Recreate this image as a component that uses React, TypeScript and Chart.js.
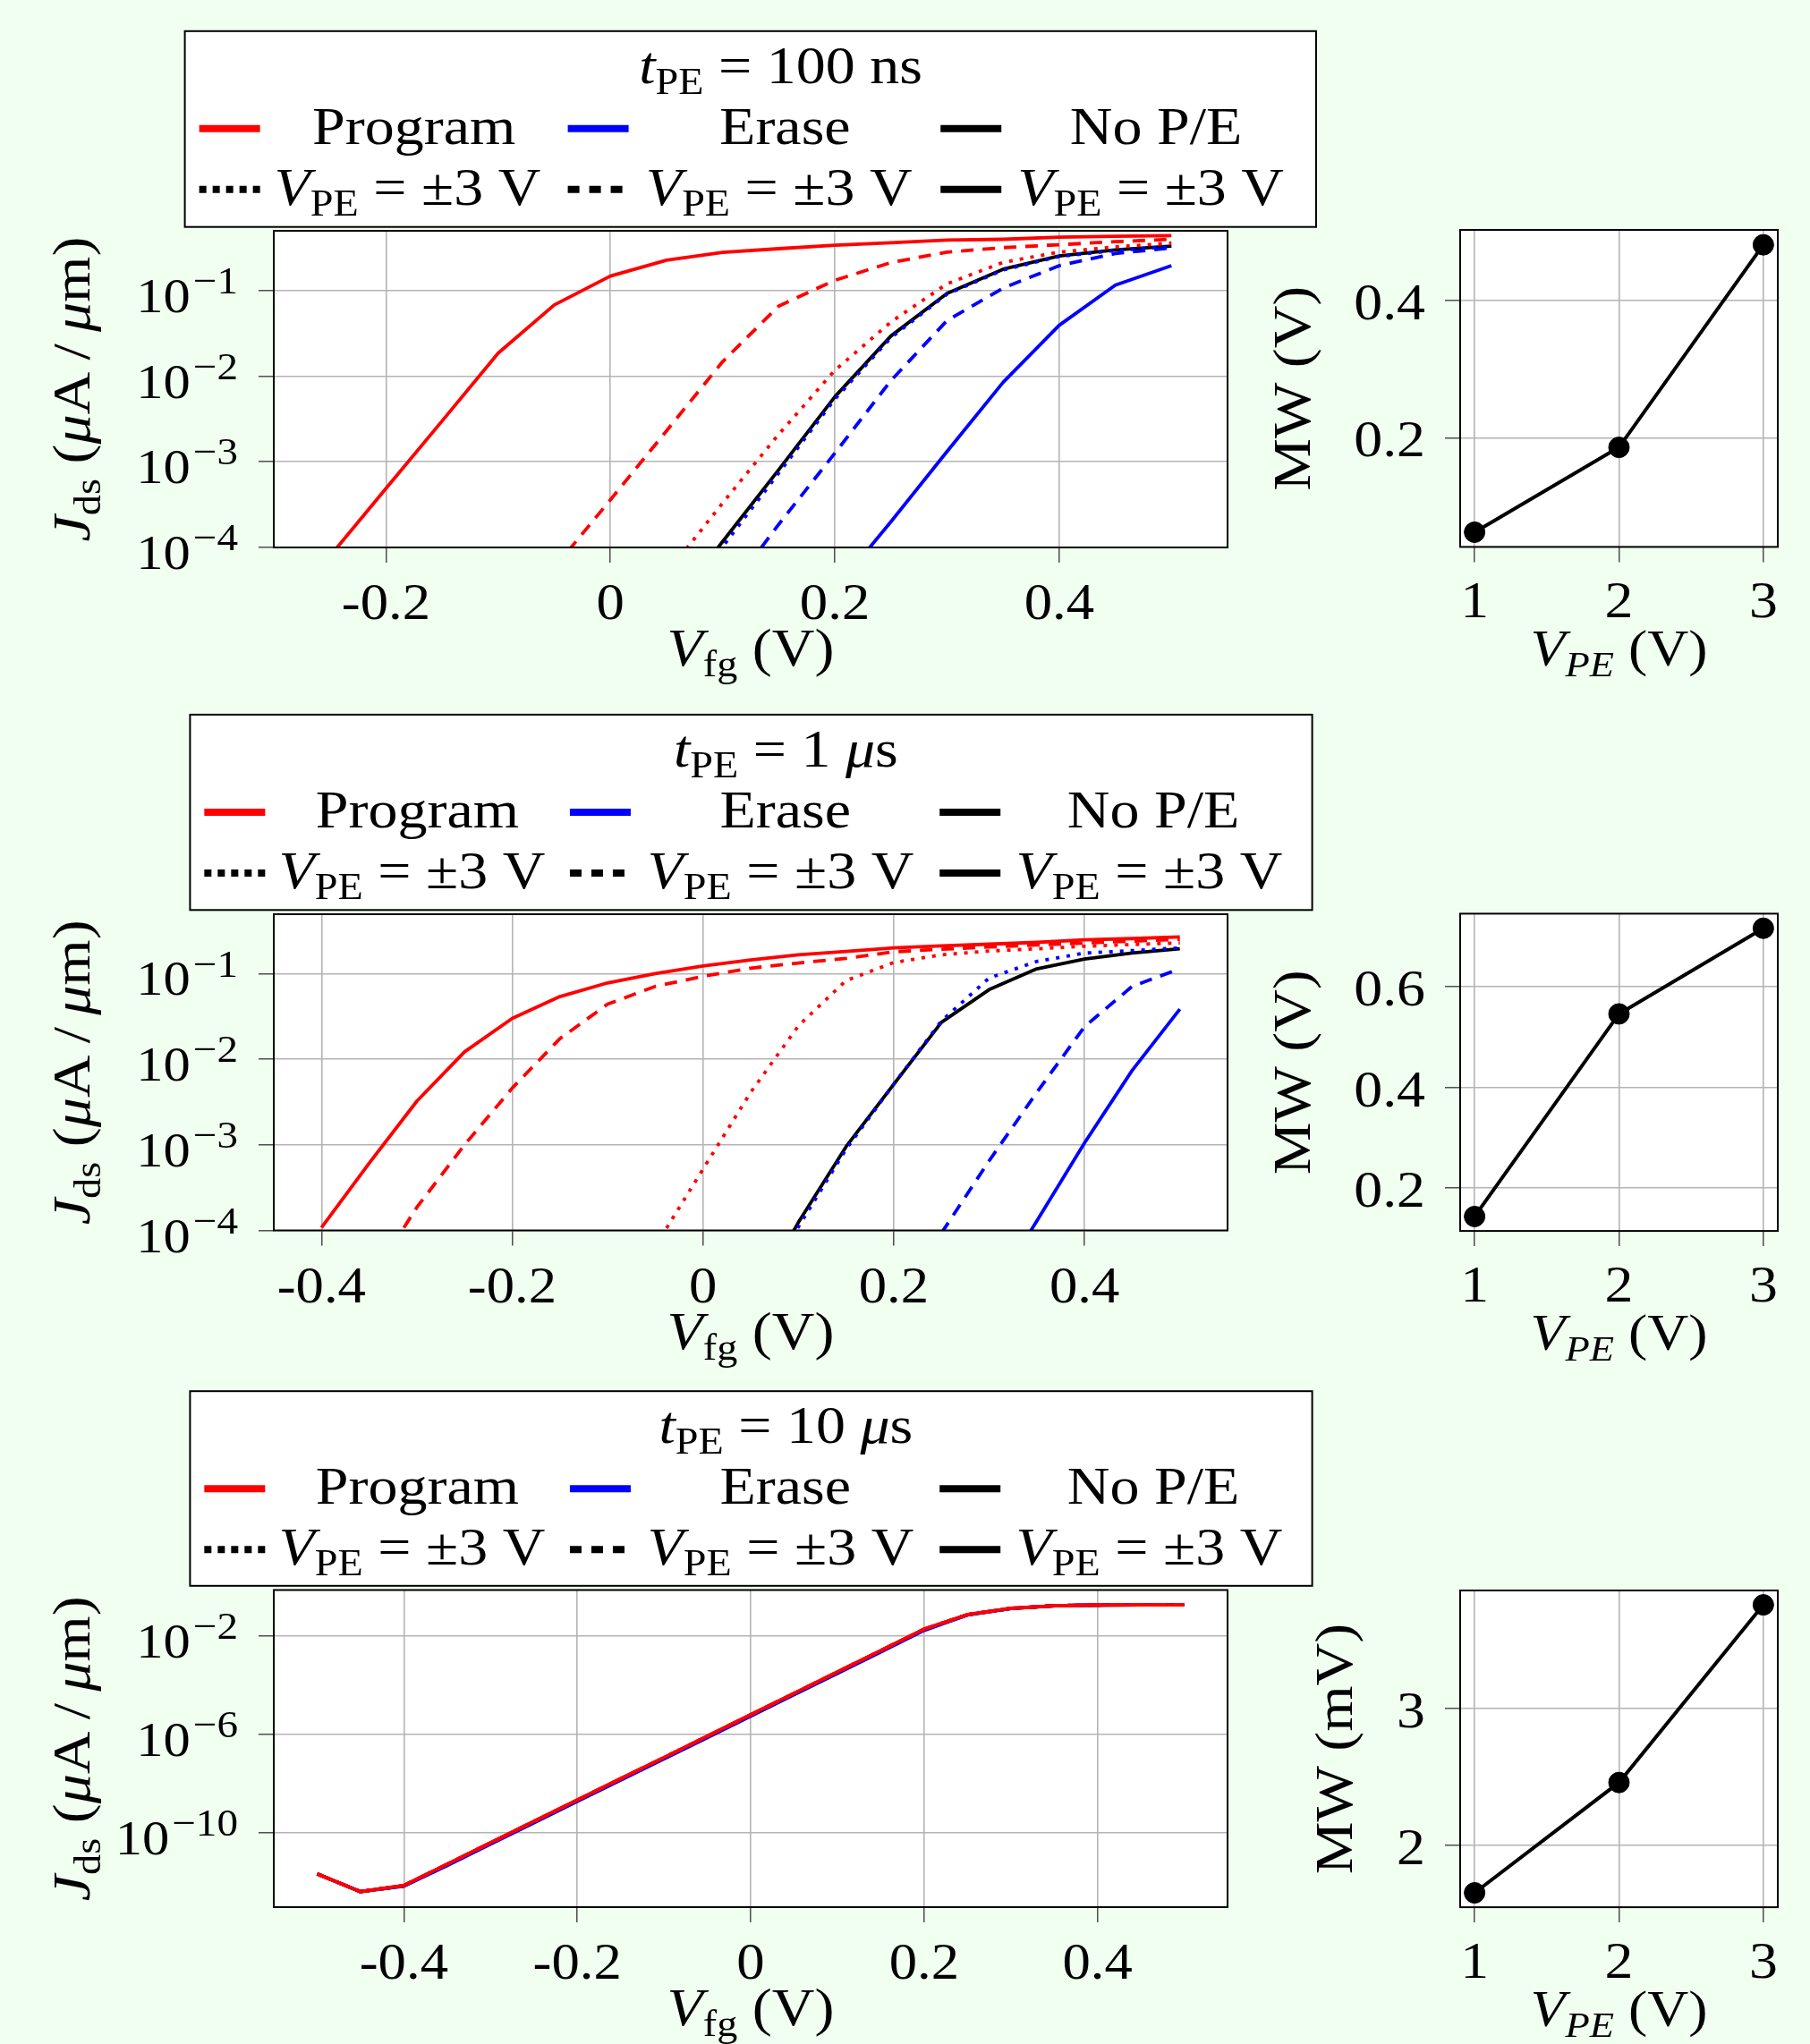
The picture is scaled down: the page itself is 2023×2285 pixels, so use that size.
import React, { useEffect, useRef } from 'react';
import { Chart, registerables } from 'chart.js';

Chart.register(...registerables);

const FONT = '"Liberation Serif", "Times New Roman", serif';
const XS = 1.1; // horizontal stretch to mimic the wider book face of the original
const PAGE_BG = '#F0FFF0';
const RED = '#FF0000';
const BLUE = '#0000FF';
const BLACK = '#000000';
const GRID = '#b4b4b4';
const TICK = '#333333';

// ---------------- Panel A : t_PE = 100 ns ----------------
const vfgA = [-0.25, -0.2, -0.15, -0.1, -0.05, 0, 0.05, 0.1, 0.15, 0.2, 0.25, 0.3, 0.35, 0.4, 0.45, 0.5];
const jdsA_programSolid = [7.9e-5, 4.9e-4, 3.0e-3, 1.86e-2, 6.8e-2, 0.148, 0.227, 0.28, 0.309, 0.339, 0.363, 0.389, 0.398, 0.421, 0.431, 0.439];
const jdsA_programDashed = [null, null, null, null, 5.8e-5, 3.6e-4, 2.3e-3, 1.48e-2, 6.6e-2, 0.132, 0.213, 0.282, 0.318, 0.344, 0.373, 0.398];
const jdsA_programDotted = [null, null, null, null, null, null, 4.9e-5, 3.3e-4, 2.1e-3, 1.17e-2, 4.3e-2, 0.12, 0.214, 0.282, 0.324, 0.359];
const jdsA_eraseSolid = [null, null, null, null, null, null, null, null, null, 3.2e-5, 2.0e-4, 1.32e-3, 8.5e-3, 3.94e-2, 0.116, 0.196];
const jdsA_eraseDashed = [null, null, null, null, null, null, null, 2.5e-5, 1.86e-4, 1.26e-3, 8.9e-3, 4.47e-2, 0.107, 0.196, 0.271, 0.316];
const jdsA_eraseDotted = [null, null, null, null, null, null, 1.41e-5, 1.02e-4, 7.4e-4, 5.4e-3, 2.82e-2, 9.1e-2, 0.174, 0.251, 0.295, 0.327];
const jdsA_noPE = [null, null, null, null, null, null, 1.66e-5, 1.17e-4, 8.1e-4, 5.75e-3, 2.95e-2, 9.3e-2, 0.178, 0.254, 0.299, 0.331];

// ---------------- Panel B : t_PE = 1 us ----------------
const vfgB = [-0.4, -0.35, -0.3, -0.25, -0.2, -0.15, -0.1, -0.05, 0, 0.05, 0.1, 0.15, 0.2, 0.25, 0.3, 0.35, 0.4, 0.45, 0.5];
const jdsB_programSolid = [1.08e-4, 6.1e-4, 3.24e-3, 1.22e-2, 3.0e-2, 5.4e-2, 7.8e-2, 0.1, 0.123, 0.145, 0.166, 0.182, 0.2, 0.211, 0.221, 0.232, 0.248, 0.257, 0.269];
const jdsB_programDashed = [null, 2.5e-5, 1.86e-4, 1.0e-3, 4.6e-3, 1.74e-2, 4.4e-2, 7.1e-2, 9.3e-2, 0.116, 0.133, 0.151, 0.18, 0.193, 0.205, 0.216, 0.228, 0.24, 0.252];
const jdsB_programDotted = [null, null, null, null, null, null, null, 6.5e-5, 5.2e-4, 4.1e-3, 2.45e-2, 8.3e-2, 0.135, 0.166, 0.184, 0.195, 0.209, 0.219, 0.229];
const jdsB_eraseSolid = [null, null, null, null, null, null, null, null, null, null, null, null, null, null, 1.6e-5, 1.29e-4, 1.05e-3, 7.4e-3, 3.85e-2];
const jdsB_eraseDashed = [null, null, null, null, null, null, null, null, null, null, null, null, null, 9.3e-5, 6.5e-4, 4.1e-3, 2.4e-2, 7.1e-2, 0.114];
const jdsB_eraseDotted = [null, null, null, null, null, null, null, null, null, 1.1e-5, 1.1e-4, 8.9e-4, 5.1e-3, 2.8e-2, 8.9e-2, 0.139, 0.174, 0.186, 0.2];
const jdsB_noPE = [null, null, null, null, null, null, null, null, null, 1.26e-5, 1.24e-4, 9.5e-4, 5.1e-3, 2.7e-2, 6.5e-2, 0.114, 0.148, 0.174, 0.195];

// ---------------- Panel C : t_PE = 10 us ----------------
const vfgC = [-0.5, -0.45, -0.4, -0.35, -0.3, -0.25, -0.2, -0.15, -0.1, -0.05, 0, 0.05, 0.1, 0.15, 0.2, 0.25, 0.3, 0.35, 0.4, 0.45, 0.5];
const jdsC_programSolid = [2.09e-12, 3.98e-13, 7.08e-13, 5.25e-12, 3.89e-11, 2.88e-10, 2.14e-9, 1.58e-8, 1.15e-7, 8.51e-7, 6.31e-6, 4.68e-5, 3.47e-4, 2.57e-3, 1.91e-2, 7.41e-2, 0.133, 0.17, 0.182, 0.184, 0.184];
const jdsC_programDashed = [2.09e-12, 3.98e-13, 7.05e-13, 5.2e-12, 3.85e-11, 2.85e-10, 2.11e-9, 1.56e-8, 1.13e-7, 8.4e-7, 6.22e-6, 4.61e-5, 3.42e-4, 2.54e-3, 1.89e-2, 7.38e-2, 0.133, 0.17, 0.182, 0.184, 0.184];
const jdsC_programDotted = [2.09e-12, 3.98e-13, 7.02e-13, 5.16e-12, 3.82e-11, 2.83e-10, 2.09e-9, 1.54e-8, 1.12e-7, 8.3e-7, 6.15e-6, 4.56e-5, 3.38e-4, 2.51e-3, 1.87e-2, 7.36e-2, 0.133, 0.17, 0.182, 0.184, 0.184];
const jdsC_eraseSolid = [2.09e-12, 3.98e-13, 6.6e-13, 4.6e-12, 3.4e-11, 2.5e-10, 1.85e-9, 1.36e-8, 9.9e-8, 7.3e-7, 5.45e-6, 4.03e-5, 2.99e-4, 2.22e-3, 1.68e-2, 7.1e-2, 0.131, 0.169, 0.182, 0.184, 0.184];
const jdsC_eraseDashed = [2.09e-12, 3.98e-13, 6.8e-13, 4.97e-12, 3.67e-11, 2.71e-10, 2.0e-9, 1.47e-8, 1.07e-7, 7.9e-7, 5.88e-6, 4.36e-5, 3.23e-4, 2.4e-3, 1.8e-2, 7.27e-2, 0.132, 0.17, 0.182, 0.184, 0.184];
const jdsC_eraseDotted = [2.09e-12, 3.98e-13, 6.88e-13, 5.04e-12, 3.72e-11, 2.75e-10, 2.03e-9, 1.5e-8, 1.08e-7, 8.05e-7, 5.98e-6, 4.43e-5, 3.28e-4, 2.44e-3, 1.82e-2, 7.3e-2, 0.132, 0.17, 0.182, 0.184, 0.184];
const jdsC_noPE = [2.09e-12, 3.98e-13, 6.95e-13, 5.1e-12, 3.78e-11, 2.79e-10, 2.07e-9, 1.52e-8, 1.1e-7, 8.2e-7, 6.08e-6, 4.5e-5, 3.34e-4, 2.48e-3, 1.85e-2, 7.33e-2, 0.132, 0.17, 0.182, 0.184, 0.184];

// ---------------- Memory window panels ----------------
const vpe = [1, 2, 3];
const mw100ns = [0.0624, 0.186, 0.481];
const mw1us = [0.1437, 0.546, 0.716];
const mw10us_mV = [1.656, 2.46, 3.755];

// ---------------- Tick values ----------------
const vfgTicksA = [-0.2, 0, 0.2, 0.4];
const vfgTicksBC = [-0.4, -0.2, 0, 0.2, 0.4];
const jdsTicksAB = [1e-4, 1e-3, 1e-2, 1e-1];
const jdsTicksC = [1e-10, 1e-6, 1e-2];
const vpeTicks = [1, 2, 3];
const mwTicksA = [0.2, 0.4];
const mwTicksB = [0.2, 0.4, 0.6];
const mwTicksC = [2, 3];

// ---------------- Rich text helpers ----------------
type Seg = { t: string; it?: boolean; sub?: boolean; sup?: boolean };

function segSize(s: Seg, size: number) {
  if (s.sub) return size * 0.7;
  if (s.sup) return size * 0.78;
  return size;
}
function segFont(s: Seg, size: number) {
  return `${s.it ? 'italic ' : ''}${segSize(s, size)}px ${FONT}`;
}
function richWidth(ctx: CanvasRenderingContext2D, segs: Seg[], size: number) {
  let w = 0;
  for (const s of segs) {
    ctx.font = segFont(s, size);
    w += ctx.measureText(s.t).width;
    if (s.sup) w += size * 0.05;
  }
  return w;
}
function drawRich(ctx: CanvasRenderingContext2D, segs: Seg[], x: number, y: number, size: number, align: 'left' | 'center' | 'right' = 'left') {
  const w = richWidth(ctx, segs, size) * XS;
  const x0 = align === 'center' ? x - w / 2 : align === 'right' ? x - w : x;
  ctx.save();
  ctx.translate(x0, y);
  ctx.scale(XS, 1);
  ctx.fillStyle = '#000';
  ctx.textAlign = 'left';
  ctx.textBaseline = 'alphabetic';
  let cx = 0;
  for (const s of segs) {
    ctx.font = segFont(s, size);
    if (s.sup) cx += size * 0.05;
    const dy = s.sub ? size * 0.2 : s.sup ? -size * 0.38 : 0;
    ctx.fillText(s.t, cx, dy);
    cx += ctx.measureText(s.t).width;
  }
  ctx.restore();
}
function logLabel(v: number): Seg[] {
  const e = Math.round(Math.log10(v));
  return [{ t: '10' }, { t: (e < 0 ? '\u2212' : '') + Math.abs(e), sup: true }];
}

const JDS_TITLE: Seg[] = [
  { t: 'J', it: true }, { t: 'ds', sub: true }, { t: ' (' }, { t: '\u03bc', it: true },
  { t: 'A\u2009/\u2009' }, { t: '\u03bc', it: true }, { t: 'm)' },
];
const VFG_TITLE: Seg[] = [{ t: 'V', it: true }, { t: 'fg', sub: true }, { t: ' (V)' }];
const VPE_TITLE: Seg[] = [{ t: 'V', it: true }, { t: 'PE', it: true, sub: true }, { t: ' (V)' }];
const VPE_LEGEND: Seg[] = [{ t: 'V', it: true }, { t: 'PE', sub: true }, { t: ' = \u00b13 V' }];
const TITLE_A: Seg[] = [{ t: 't', it: true }, { t: 'PE', sub: true }, { t: ' = 100 ns' }];
const TITLE_B: Seg[] = [{ t: 't', it: true }, { t: 'PE', sub: true }, { t: ' = 1 ' }, { t: '\u03bc', it: true }, { t: 's' }];
const TITLE_C: Seg[] = [{ t: 't', it: true }, { t: 'PE', sub: true }, { t: ' = 10 ' }, { t: '\u03bc', it: true }, { t: 's' }];

const LEG_FS = 60;
const LINE_W = 3.8;
const DOTTED = [4, 8];
const DASHED = [14, 10];

type Box = { l: number; t: number; r: number; b: number };

function drawLegend(ctx: CanvasRenderingContext2D, box: Box, oy: number, title: Seg[]) {
  const l = box.l, t = box.t - oy, w = box.r - box.l, h = box.b - box.t;
  ctx.save();
  ctx.fillStyle = '#ffffff';
  ctx.fillRect(l, t, w, h);
  ctx.strokeStyle = '#000';
  ctx.lineWidth = 2;
  ctx.strokeRect(l, t, w, h);
  ctx.restore();
  drawRich(ctx, title, l + 666, t + 58, LEG_FS, 'center');
  const sampleX = [0.0127, 0.3385, 0.668].map((f) => l + f * w);
  const nameX = [0.2025, 0.5305, 0.8585].map((f) => l + f * w);
  const vpeX = [0.079, 0.4075, 0.736].map((f) => l + f * w);
  const colors = [RED, BLUE, BLACK];
  const names = ['Program', 'Erase', 'No P/E'];
  const dashes = [[8, 7], [13, 11], []];
  for (let i = 0; i < 3; i++) {
    ctx.save();
    ctx.lineWidth = 8;
    ctx.lineCap = 'butt';
    ctx.strokeStyle = colors[i];
    ctx.beginPath();
    ctx.moveTo(sampleX[i], t + 109);
    ctx.lineTo(sampleX[i] + 68, t + 109);
    ctx.stroke();
    ctx.strokeStyle = BLACK;
    ctx.setLineDash(dashes[i]);
    ctx.beginPath();
    ctx.moveTo(sampleX[i], t + 177);
    ctx.lineTo(sampleX[i] + 68, t + 177);
    ctx.stroke();
    ctx.restore();
    drawRich(ctx, [{ t: names[i] }], nameX[i], t + 126, LEG_FS, 'center');
    drawRich(ctx, VPE_LEGEND, vpeX[i], t + 194, LEG_FS, 'left');
  }
}

const AXW = 20;

function gridOpts() {
  return { color: GRID, lineWidth: 1.6, tickColor: TICK, tickLength: 17, tickWidth: 1.3, drawTicks: true };
}

function whiteAndFrame(id: string, after: (chart: any) => void) {
  return {
    id,
    beforeDraw(chart: any) {
      const a = chart.chartArea;
      const ctx = chart.ctx;
      ctx.save();
      ctx.fillStyle = '#ffffff';
      ctx.fillRect(a.left, a.top, a.right - a.left, a.bottom - a.top);
      ctx.restore();
    },
    afterDatasetsDraw(chart: any) {
      const a = chart.chartArea;
      const ctx = chart.ctx;
      ctx.save();
      ctx.strokeStyle = '#000';
      ctx.lineWidth = 2;
      ctx.strokeRect(a.left, a.top, a.right - a.left, a.bottom - a.top);
      ctx.restore();
    },
    afterDraw(chart: any) {
      after(chart);
    },
  };
}

type Curve = { ys: (number | null)[]; color: string; dash: number[] };
type LeftPanel = {
  oy: number; h: number; plot: Box; box: Box; title: Seg[];
  xs: number[]; xMin: number; xMax: number; yMin: number; yMax: number;
  xTicks: number[]; yTicks: number[]; curves: Curve[];
};

function curvesOf(ps: (number | null)[], pd: (number | null)[], pt: (number | null)[], es: (number | null)[], ed: (number | null)[], et: (number | null)[], np: (number | null)[]): Curve[] {
  return [
    { ys: ps, color: RED, dash: [] },
    { ys: pd, color: RED, dash: DASHED },
    { ys: pt, color: RED, dash: DOTTED },
    { ys: es, color: BLUE, dash: [] },
    { ys: ed, color: BLUE, dash: DASHED },
    { ys: et, color: BLUE, dash: DOTTED },
    { ys: np, color: BLACK, dash: [] },
  ];
}

const LEFT_W = 1485;
const RIGHT_X = 1400;
const RIGHT_W = 623;

const leftPanels: LeftPanel[] = [
  {
    oy: 0, h: 780, plot: { l: 306, t: 258, r: 1372, b: 612 }, box: { l: 206.6, t: 34.8, r: 1471, b: 253.7 }, title: TITLE_A,
    xs: vfgA, xMin: -0.3, xMax: 0.55, yMin: 1e-4, yMax: 0.5, xTicks: vfgTicksA, yTicks: jdsTicksAB,
    curves: curvesOf(jdsA_programSolid, jdsA_programDashed, jdsA_programDotted, jdsA_eraseSolid, jdsA_eraseDashed, jdsA_eraseDotted, jdsA_noPE),
  },
  {
    oy: 780, h: 750, plot: { l: 306, t: 1022, r: 1372, b: 1375.5 }, box: { l: 212.4, t: 798.9, r: 1466.6, b: 1017.3 }, title: TITLE_B,
    xs: vfgB, xMin: -0.45, xMax: 0.55, yMin: 1e-4, yMax: 0.495, xTicks: vfgTicksBC, yTicks: jdsTicksAB,
    curves: curvesOf(jdsB_programSolid, jdsB_programDashed, jdsB_programDotted, jdsB_eraseSolid, jdsB_eraseDashed, jdsB_eraseDotted, jdsB_noPE),
  },
  {
    oy: 1530, h: 755, plot: { l: 306, t: 1777.5, r: 1372, b: 2132 }, box: { l: 212.4, t: 1555.2, r: 1466.6, b: 1772.8 }, title: TITLE_C,
    xs: vfgC, xMin: -0.55, xMax: 0.55, yMin: 9.3e-14, yMax: 0.74, xTicks: vfgTicksBC, yTicks: jdsTicksC,
    curves: curvesOf(jdsC_programSolid, jdsC_programDashed, jdsC_programDotted, jdsC_eraseSolid, jdsC_eraseDashed, jdsC_eraseDotted, jdsC_noPE),
  },
];

type RightPanel = {
  oy: number; h: number; plot: Box; ys: number[]; yMin: number; yMax: number; yTicks: number[];
  yTitle: string; yTitleOffset: number;
};

const rightPanels: RightPanel[] = [
  { oy: 0, h: 780, plot: { l: 1632, t: 257, r: 1987, b: 611.4 }, ys: mw100ns, yMin: 0.041, yMax: 0.5027, yTicks: mwTicksA, yTitle: 'MW (V)', yTitleOffset: 168 },
  { oy: 780, h: 750, plot: { l: 1632, t: 1021.4, r: 1987, b: 1376.1 }, ys: mw1us, yMin: 0.115, yMax: 0.745, yTicks: mwTicksB, yTitle: 'MW (V)', yTitleOffset: 168 },
  { oy: 1530, h: 755, plot: { l: 1632, t: 1778, r: 1987, b: 2132.1 }, ys: mw10us_mV, yMin: 1.551, yMax: 3.86, yTicks: mwTicksC, yTitle: 'MW (mV)', yTitleOffset: 121 },
];

function leftConfig(p: LeftPanel): any {
  const datasets = p.curves.map((c) => ({
    data: p.xs.map((x, i) => ({ x, y: c.ys[i] })),
    borderColor: c.color,
    backgroundColor: c.color,
    borderDash: c.dash,
    borderWidth: LINE_W,
    borderCapStyle: 'butt',
    borderJoinStyle: 'round',
    pointRadius: 0,
    fill: false,
    tension: 0,
    spanGaps: false,
  }));
  const plugin = whiteAndFrame('leftDecor', (chart: any) => {
    const ctx: CanvasRenderingContext2D = chart.ctx;
    const a = chart.chartArea;
    const xs = chart.scales.x;
    const ys = chart.scales.y;
    for (const v of p.yTicks) {
      drawRich(ctx, logLabel(v), a.left - 40, ys.getPixelForValue(v) + 24, 55, 'right');
    }
    for (const v of p.xTicks) {
      drawRich(ctx, [{ t: String(v) }], xs.getPixelForValue(v), a.bottom + 80, 57, 'center');
    }
    drawRich(ctx, VFG_TITLE, (a.left + a.right) / 2, a.bottom + 132, 60, 'center');
    ctx.save();
    ctx.translate(a.left - 206, (a.top + a.bottom) / 2);
    ctx.rotate(-Math.PI / 2);
    drawRich(ctx, JDS_TITLE, 0, 0, 60, 'center');
    ctx.restore();
    drawLegend(ctx, p.box, p.oy, p.title);
  });
  return {
    type: 'line',
    data: { datasets },
    options: {
      responsive: false,
      animation: false,
      devicePixelRatio: 1,
      events: [],
      layout: { padding: { left: p.plot.l - AXW, top: p.plot.t - p.oy, right: LEFT_W - p.plot.r, bottom: p.oy + p.h - p.plot.b - AXW } },
      plugins: { legend: { display: false }, tooltip: { enabled: false }, title: { display: false } },
      scales: {
        x: {
          type: 'linear', min: p.xMin, max: p.xMax, bounds: 'data',
          ticks: { display: false }, grid: gridOpts(), border: { display: false },
          afterBuildTicks: (s: any) => { s.ticks = p.xTicks.map((v) => ({ value: v })); },
          afterFit: (s: any) => { s.height = AXW; },
        },
        y: {
          type: 'logarithmic', min: p.yMin, max: p.yMax, bounds: 'data',
          ticks: { display: false }, grid: gridOpts(), border: { display: false },
          afterBuildTicks: (s: any) => { s.ticks = p.yTicks.map((v) => ({ value: v })); },
          afterFit: (s: any) => { s.width = AXW; },
        },
      },
    },
    plugins: [plugin],
  };
}

function rightConfig(p: RightPanel): any {
  const plugin = whiteAndFrame('rightDecor', (chart: any) => {
    const ctx: CanvasRenderingContext2D = chart.ctx;
    const a = chart.chartArea;
    const xs = chart.scales.x;
    const ys = chart.scales.y;
    for (const v of p.yTicks) {
      drawRich(ctx, [{ t: String(v) }], a.left - 39, ys.getPixelForValue(v) + 21, 58, 'right');
    }
    for (const v of vpeTicks) {
      drawRich(ctx, [{ t: String(v) }], xs.getPixelForValue(v), a.bottom + 79, 58, 'center');
    }
    drawRich(ctx, VPE_TITLE, (a.left + a.right) / 2, a.bottom + 133, 58, 'center');
    ctx.save();
    ctx.translate(a.left - p.yTitleOffset, (a.top + a.bottom) / 2);
    ctx.rotate(-Math.PI / 2);
    drawRich(ctx, [{ t: p.yTitle }], 0, 0, 60, 'center');
    ctx.restore();
  });
  return {
    type: 'line',
    data: {
      datasets: [{
        data: vpe.map((x, i) => ({ x, y: p.ys[i] })),
        borderColor: BLACK,
        backgroundColor: BLACK,
        borderWidth: 4,
        pointRadius: 11.5,
        pointBackgroundColor: BLACK,
        pointBorderColor: BLACK,
        pointBorderWidth: 1,
        fill: false,
        tension: 0,
      }],
    },
    options: {
      responsive: false,
      animation: false,
      devicePixelRatio: 1,
      events: [],
      layout: { padding: { left: p.plot.l - RIGHT_X - AXW, top: p.plot.t - p.oy, right: RIGHT_X + RIGHT_W - p.plot.r, bottom: p.oy + p.h - p.plot.b - AXW } },
      plugins: { legend: { display: false }, tooltip: { enabled: false }, title: { display: false } },
      scales: {
        x: {
          type: 'linear', min: 0.9, max: 3.1, bounds: 'data',
          ticks: { display: false }, grid: gridOpts(), border: { display: false },
          afterBuildTicks: (s: any) => { s.ticks = vpeTicks.map((v) => ({ value: v })); },
          afterFit: (s: any) => { s.height = AXW; },
        },
        y: {
          type: 'linear', min: p.yMin, max: p.yMax, bounds: 'data',
          ticks: { display: false }, grid: gridOpts(), border: { display: false },
          afterBuildTicks: (s: any) => { s.ticks = p.yTicks.map((v) => ({ value: v })); },
          afterFit: (s: any) => { s.width = AXW; },
        },
      },
    },
    plugins: [plugin],
  };
}

function ChartBox({ x, y, w, h, make }: { x: number; y: number; w: number; h: number; make: () => any }) {
  const ref = useRef<HTMLCanvasElement>(null);
  useEffect(() => {
    const c = ref.current;
    if (!c) return;
    const chart = new Chart(c, make());
    return () => chart.destroy();
  }, []);
  return (
    <canvas
      ref={ref}
      width={w}
      height={h}
      style={{ position: 'absolute', left: x, top: y, width: w, height: h, display: 'block' }}
    />
  );
}

export default function App() {
  useEffect(() => {
    document.body.style.margin = '0';
    document.body.style.background = PAGE_BG;
    document.documentElement.style.overflow = 'hidden';
  }, []);
  return (
    <div style={{ position: 'absolute', left: 0, top: 0, width: 2023, height: 2285, background: PAGE_BG, overflow: 'hidden' }}>
      {leftPanels.map((p, i) => (
        <ChartBox key={'l' + i} x={0} y={p.oy} w={LEFT_W} h={p.h} make={() => leftConfig(p)} />
      ))}
      {rightPanels.map((p, i) => (
        <ChartBox key={'r' + i} x={RIGHT_X} y={p.oy} w={RIGHT_W} h={p.h} make={() => rightConfig(p)} />
      ))}
    </div>
  );
}
